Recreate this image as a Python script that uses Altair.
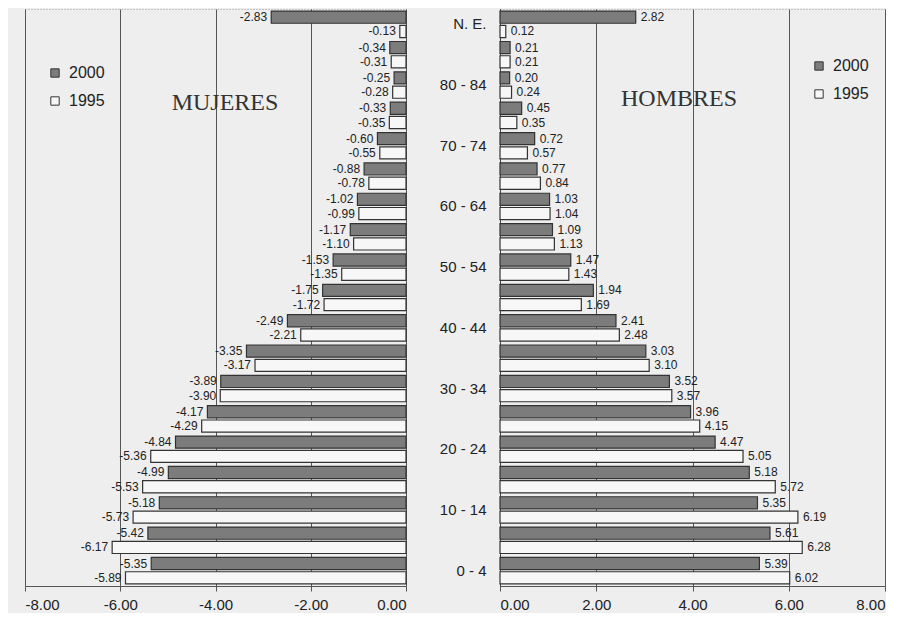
import altair as alt
import pandas as pd

groups = ["N. E.", "85 y más", "80 - 84", "75 - 79", "70 - 74", "65 - 69", "60 - 64",
          "55 - 59", "50 - 54", "45 - 49", "40 - 44", "35 - 39", "30 - 34", "25 - 29",
          "20 - 24", "15 - 19", "10 - 14", "5 - 9", "0 - 4"]
shown_labels = ["N. E.", "80 - 84", "70 - 74", "60 - 64", "50 - 54", "40 - 44",
                "30 - 34", "20 - 24", "10 - 14", "0 - 4"]
years = ["2000", "1995"]

mujeres_2000 = [-2.83, -0.34, -0.25, -0.33, -0.60, -0.88, -1.02, -1.17, -1.53, -1.75,
                -2.49, -3.35, -3.89, -4.17, -4.84, -4.99, -5.18, -5.42, -5.35]
mujeres_1995 = [-0.13, -0.31, -0.28, -0.35, -0.55, -0.78, -0.99, -1.10, -1.35, -1.72,
                -2.21, -3.17, -3.90, -4.29, -5.36, -5.53, -5.73, -6.17, -5.89]
hombres_2000 = [2.82, 0.21, 0.20, 0.45, 0.72, 0.77, 1.03, 1.09, 1.47, 1.94,
                2.41, 3.03, 3.52, 3.96, 4.47, 5.18, 5.35, 5.61, 5.39]
hombres_1995 = [0.12, 0.21, 0.24, 0.35, 0.57, 0.84, 1.04, 1.13, 1.43, 1.69,
                2.48, 3.10, 3.57, 4.15, 5.05, 5.72, 6.19, 6.28, 6.02]

rows = []
for i, g in enumerate(groups):
    for yr, m, h in (("2000", mujeres_2000[i], hombres_2000[i]),
                     ("1995", mujeres_1995[i], hombres_1995[i])):
        rows.append({"grupo": g, "anio": yr, "m": m, "h": h,
                     "m_lbl": f"{m:.2f}", "h_lbl": f"{h:.2f}"})
df = pd.DataFrame(rows)

FONT = "Liberation Sans"
SERIF = "Liberation Serif"
W_L, W_R, H = 381, 385, 577

def color_enc(lx, ly, rowpad):
    return alt.Color(
        "anio:N",
        sort=years,
        scale=alt.Scale(domain=years, range=["#7c7c7c", "#f7f7f7"]),
        legend=alt.Legend(
            title=None, orient="none", legendX=lx, legendY=ly,
            symbolType="square", symbolSize=70, symbolStrokeColor="#333333",
            symbolStrokeWidth=1, labelFont=FONT, labelFontSize=16,
            labelColor="#222222", rowPadding=rowpad, labelOffset=6,
        ),
    )

yoff = alt.YOffset("anio:N", sort=years, scale=alt.Scale(paddingInner=0.15))

def x_axis(vals):
    return alt.Axis(values=vals, grid=True, gridColor="#555555",
                    labelExpr="replace(format(datum.value, '.2f'), '\u2212', '-')",
                    gridWidth=1, labelFont=FONT, labelFontSize=15, labelColor="#222222",
                    tickColor="#555555", tickSize=5, labelPadding=6,
                    domainColor="#555555", title=None)

# Left panel (MUJERES)
y_enc = alt.Y("grupo:N", sort=groups,
              scale=alt.Scale(paddingInner=0.13, paddingOuter=0.07), axis=None)
base_l = alt.Chart(df)
bars_l = base_l.mark_bar(stroke="#333333", strokeWidth=1.2).encode(
    x=alt.X("m:Q", scale=alt.Scale(domain=[-8, 0], nice=False),
            axis=x_axis([-8, -6, -4, -2, 0])),
    y=y_enc, yOffset=yoff,
    color=color_enc(22, 56, 12),
)
text_l = base_l.mark_text(align="right", baseline="middle", dx=-4, font=FONT,
                          fontSize=12, color="#222222").encode(
    x="m:Q", y=y_enc, yOffset=yoff, text="m_lbl:N",
)
title_l = alt.Chart(pd.DataFrame({"t": ["MUJERES"]})).mark_text(
    font=SERIF, fontSize=24, color="#333333", align="center", baseline="middle"
).encode(x=alt.value(200), y=alt.value(94), text="t:N")
left = alt.layer(bars_l, text_l, title_l).properties(width=W_L, height=H)

# Right panel (HOMBRES)
y_enc_r = alt.Y("grupo:N", sort=groups,
                scale=alt.Scale(paddingInner=0.13, paddingOuter=0.07),
                axis=alt.Axis(values=shown_labels, title=None, ticks=False,
                              labelFont=FONT, labelFontSize=15, labelColor="#222222",
                              labelPadding=14, domainColor="#444444"))
base_r = alt.Chart(df)
bars_r = base_r.mark_bar(stroke="#333333", strokeWidth=1.2).encode(
    x=alt.X("h:Q", scale=alt.Scale(domain=[0, 8], nice=False),
            axis=x_axis([0, 2, 4, 6, 8])),
    y=y_enc_r, yOffset=yoff,
    color=color_enc(311, 49, 12),
)
text_r = base_r.mark_text(align="left", baseline="middle", dx=5, font=FONT,
                          fontSize=12, color="#222222").encode(
    x="h:Q", y=y_enc_r, yOffset=yoff, text="h_lbl:N",
)
title_r = alt.Chart(pd.DataFrame({"t": ["HOMBRES"]})).mark_text(
    font=SERIF, fontSize=24, color="#333333", align="center", baseline="middle"
).encode(x=alt.value(179), y=alt.value(90), text="t:N")
right = alt.layer(bars_r, text_r, title_r).properties(width=W_R, height=H)

chart = alt.hconcat(left, right, spacing=94, bounds="flush").resolve_scale(
    color="independent"
).properties(
    padding={"left": 16, "top": 0, "right": 0, "bottom": 0}, background="#eeeeee"
).configure_view(
    stroke="#9a9a9a", strokeDash=[1, 2], strokeWidth=1
)

chart.save("out.html", embed_options={"renderer": "svg", "actions": False})
